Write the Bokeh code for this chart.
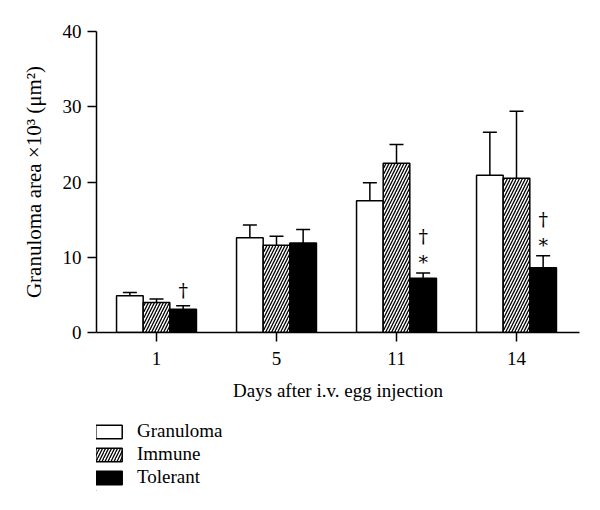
import numpy as np
from bokeh.plotting import figure
from bokeh.layouts import column
from bokeh.models import (ColumnDataSource, Range1d, FixedTicker, Whisker, TeeHead,
                          Legend, LegendItem)
from bokeh.core.properties import value
from bokeh.embed import file_html
from bokeh.resources import INLINE

days = ["1", "5", "11", "14"]
series = ["Granuloma", "Immune", "Tolerant"]
granuloma = [4.9, 12.6, 17.5, 20.9]
granuloma_err = [5.3, 14.3, 19.9, 26.6]
immune = [4.0, 11.6, 22.5, 20.5]
immune_err = [4.45, 12.8, 25.0, 29.4]
tolerant = [3.1, 11.9, 7.2, 8.6]
tolerant_err = [3.55, 13.7, 7.9, 10.2]
# significance marks above the tolerant bars (per day)
marks = [["†"], [], ["*", "†"], ["*", "†"]]
y_ticks = [0, 10, 20, 30, 40]

FONT = "Liberation Serif"
bar_w = 0.222
offsets = [-bar_w, 0.0, bar_w]
idx = np.arange(len(days))

p = figure(frame_width=483, frame_height=301, output_backend="svg",
           toolbar_location=None, x_range=Range1d(-0.5, 3.525),
           y_range=Range1d(0, 40), min_border_left=96, min_border_right=10,
           min_border_top=31, min_border_bottom=0)
p.outline_line_color = None
p.xgrid.grid_line_color = None
p.ygrid.grid_line_color = None

styles = [
    dict(fill_color="white"),
    dict(fill_color="white", hatch_pattern="/", hatch_scale=6, hatch_weight=1.3,
         hatch_color="black"),
    dict(fill_color="black"),
]
vals = [granuloma, immune, tolerant]
errs = [granuloma_err, immune_err, tolerant_err]
for k in range(3):
    src = ColumnDataSource(dict(x=idx + offsets[k], top=vals[k], err=errs[k]))
    w = Whisker(source=src, base="x", lower="top", upper="err", dimension="height",
                lower_head=None, upper_head=TeeHead(size=14, line_width=1.5),
                line_width=1.5, line_color="black")
    p.add_layout(w)
    p.vbar(x="x", top="top", width=bar_w, bottom=0, source=src,
           line_color="black", line_width=1.5, **styles[k])

# annotation symbols
mx, my, mt, moff = [], [], [], []
for i, ms in enumerate(marks):
    for j, m in enumerate(ms):
        mx.append(i + offsets[2])
        my.append(tolerant_err[i])
        mt.append(m)
        moff.append(-(16 + 21 * j) if m == "†" else -11)
msrc = ColumnDataSource(dict(x=mx, y=my, t=mt, off=moff))
p.text(x="x", y="y", text="t", y_offset="off", source=msrc, text_align="center",
       text_baseline="middle", text_font=value("DejaVu Serif"), text_font_size="19px",
       text_color="black")

for ax in (p.xaxis[0], p.yaxis[0]):
    ax.axis_line_width = 1.5
    ax.axis_line_color = "black"
    ax.major_tick_line_width = 1.5
    ax.major_tick_line_color = "black"
    ax.major_tick_out = 9
    ax.major_tick_in = 0
    ax.minor_tick_line_color = None
    ax.major_label_text_font = FONT
    ax.major_label_text_font_size = "19px"
    ax.major_label_text_color = "black"
    ax.axis_label_text_font = FONT
    ax.axis_label_text_font_style = "normal"
    ax.axis_label_text_color = "black"

p.xaxis.ticker = FixedTicker(ticks=list(idx))
p.xaxis.major_label_overrides = {int(i): d for i, d in zip(idx, days)}
p.xaxis.axis_label = "Days after i.v. egg injection"
p.xaxis.axis_label_text_font_size = "19px"
p.xaxis.major_label_standoff = 10
p.xaxis.axis_label_standoff = 12
p.yaxis.ticker = FixedTicker(ticks=y_ticks)
p.yaxis.axis_label = "Granuloma area ×10³ (μm²)"
p.yaxis.axis_label_text_font_size = "21px"
p.yaxis.major_label_standoff = 6
p.yaxis.axis_label_standoff = 14

# legend panel below the chart (swatch renderers sit outside its visible range)
lg = figure(width=592, height=88, output_backend="svg", toolbar_location=None,
            x_range=Range1d(0, 1), y_range=Range1d(0, 1), x_axis_location=None,
            y_axis_location=None, min_border=0)
lg.outline_line_color = None
lg.grid.visible = False
swatches = []
for k in range(3):
    swatches.append(lg.vbar(x=[-50], top=[-40], bottom=[-50], width=0.1,
                            line_color="black", line_width=1.5, **styles[k]))
legend = Legend(items=[LegendItem(label=s, renderers=[r]) for s, r in zip(series, swatches)],
                location=(-4, 3), orientation="vertical", border_line_color=None,
                background_fill_alpha=0, padding=0, margin=0, glyph_width=33,
                glyph_height=17, label_height=17, spacing=1, label_standoff=12,
                label_text_font=FONT, label_text_font_size="19px",
                label_text_color="black")
lg.add_layout(legend)

open("out.html", "w").write(file_html(column(p, lg, spacing=0), INLINE))
